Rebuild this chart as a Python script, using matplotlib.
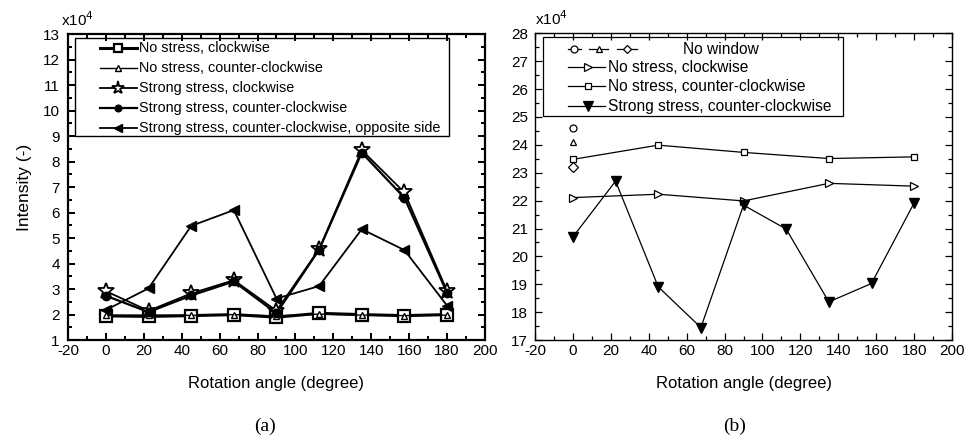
import numpy as np
import matplotlib.pyplot as plt
from matplotlib.ticker import MultipleLocator
from matplotlib.lines import Line2D
from matplotlib.patches import Rectangle

plt.rcParams['font.family'] = ['Liberation Sans', 'DejaVu Sans']
plt.rcParams['axes.unicode_minus'] = False

# (a) rotation angle vs intensity (x1e4)
ang_a = [0, 22.5, 45, 67.5, 90, 112.5, 135, 157.5, 180]
no_cw = [1.95, 1.93, 1.96, 2.0, 1.9, 2.05, 2.0, 1.96, 2.0]
no_ccw = [1.97, 1.98, 1.97, 2.0, 1.95, 2.02, 1.98, 1.96, 1.98]
strong_cw = [2.92, 2.15, 2.83, 3.35, 2.15, 4.57, 8.45, 6.79, 2.92]
strong_ccw = [2.74, 2.1, 2.75, 3.3, 2.05, 4.55, 8.35, 6.58, 2.85]
strong_ccw_opp = [2.18, 3.03, 5.48, 6.1, 2.63, 3.12, 5.35, 4.53, 2.35]
labels_a = ['No stress, clockwise', 'No stress, counter-clockwise', 'Strong stress, clockwise',
            'Strong stress, counter-clockwise', 'Strong stress, counter-clockwise, opposite side']

# (b)
nowin_circle = 24.59
nowin_tri = 24.11
nowin_diamond = 23.21
ang_b5 = [0, 45, 90, 135, 180]
b_no_cw = [22.11, 22.23, 21.99, 22.62, 22.52]
b_no_ccw = [23.48, 23.99, 23.73, 23.51, 23.57]
ang_b9 = [0, 22.5, 45, 67.5, 90, 112.5, 135, 157.5, 180]
b_strong_ccw = [20.70, 22.70, 18.91, 17.45, 21.84, 20.98, 18.37, 19.03, 21.92]
labels_b = ['No window', 'No stress, clockwise', 'No stress, counter-clockwise',
            'Strong stress, counter-clockwise']

fig = plt.figure(figsize=(9.71, 4.44), dpi=100)
ax1 = fig.add_axes([0.070, 0.234, 0.4295, 0.689])
ax2 = fig.add_axes([0.551, 0.234, 0.4295, 0.691])


def style_axes(ax, lw):
    ax.set_xlim(-20, 200)
    ax.xaxis.set_major_locator(MultipleLocator(20))
    ax.xaxis.set_minor_locator(MultipleLocator(10))
    ax.yaxis.set_major_locator(MultipleLocator(1))
    ax.yaxis.set_minor_locator(MultipleLocator(0.5))
    for sp in ax.spines.values():
        sp.set_linewidth(lw)
    ax.tick_params(which='both', direction='in', top=True, right=True, width=lw * 0.9, labelsize=11)
    ax.tick_params(which='major', length=5)
    ax.tick_params(which='minor', length=3)
    ax.tick_params(axis='x', pad=3)
    ax.set_xlabel('Rotation angle (degree)', fontsize=12, labelpad=13)


# ---- panel a
sty_a = [dict(marker='s', lw=2.2, ms=8, mfc='white', mew=1.6),
         dict(marker='^', lw=1.0, ms=5, mfc='white', mew=1.0),
         dict(marker='*', lw=1.3, ms=12, mfc='white', mew=1.3),
         dict(marker='o', lw=1.6, ms=6, mfc='k', mew=1.0),
         dict(marker='<', lw=1.3, ms=7, mfc='k', mew=1.0)]
for ys, st in zip([no_cw, no_ccw, strong_cw, strong_ccw, strong_ccw_opp], sty_a):
    ax1.plot(ang_a, ys, color='k', mec='k', **st)

ax1.set_ylim(1, 13)
style_axes(ax1, 1.6)
ax1.tick_params(axis='y', pad=6)
ax1.set_ylabel('Intensity (-)', fontsize=12.5, labelpad=8)
ax1.text(-0.016, 1.028, r'x10$^4$', transform=ax1.transAxes, fontsize=11)

# legend (a), drawn by hand to follow the original layout
T1 = ax1.transAxes
ax1.add_patch(Rectangle((0.017, 0.667), 0.897, 0.32, transform=T1, fill=False, ec='k', lw=1.0, zorder=5))
rows_a = [0.954, 0.889, 0.824, 0.758, 0.693]
for y, st, lab in zip(rows_a, sty_a, labels_a):
    ax1.add_line(Line2D([0.077, 0.165], [y, y], transform=T1, color='k', lw=st['lw'], zorder=6))
    ax1.add_line(Line2D([0.121], [y], transform=T1, color='k', marker=st['marker'], ms=st['ms'] * 0.8,
                        mfc=st['mfc'], mec='k', mew=st['mew'], zorder=6))
    ax1.text(0.170, y, lab, transform=T1, fontsize=10.4, va='center', zorder=6)
fig.text(0.273, 0.03, '(a)', fontsize=14, family='Liberation Serif', ha='center')

# ---- panel b
ax2.plot([0], [nowin_circle], 'o', color='k', ms=5, mfc='white', mew=0.9)
ax2.plot([0], [nowin_tri], '^', color='k', ms=5, mfc='white', mew=0.9)
ax2.plot([0], [nowin_diamond], 'D', color='k', ms=5, mfc='white', mew=0.9)
ax2.plot(ang_b5, b_no_cw, '->', color='k', lw=0.9, ms=6, mfc='white', mew=0.9)
ax2.plot(ang_b5, b_no_ccw, '-s', color='k', lw=0.9, ms=5, mfc='white', mew=0.9)
ax2.plot(ang_b9, b_strong_ccw, '-v', color='k', lw=0.9, ms=7, mfc='k')

ax2.set_ylim(17, 28)
style_axes(ax2, 1.0)
ax2.tick_params(axis='y', pad=5)
ax2.text(0.0, 1.028, r'x10$^4$', transform=ax2.transAxes, fontsize=11)

# legend (b), drawn by hand: first row has three handles
T = ax2.transAxes
ax2.add_patch(Rectangle((0.019, 0.730), 0.72, 0.257, transform=T, fill=False, ec='k', lw=0.9, zorder=5))
rows = [0.948, 0.890, 0.827, 0.762]
for x0, x1, m in [(0.079, 0.11, 'o'), (0.13, 0.175, '^'), (0.197, 0.245, 'D')]:
    ax2.add_line(Line2D([x0, x1], [rows[0]] * 2, transform=T, color='k', lw=0.9, zorder=6))
    ax2.add_line(Line2D([(x0 + x1) / 2], [rows[0]], transform=T, color='k', marker=m, ms=5 if m != 'D' else 4.5,
                        mfc='white', mew=0.9, zorder=6))
ax2.text(0.355, rows[0], labels_b[0], transform=T, fontsize=11.2, va='center', zorder=6)
for y, m, fc, ms, lab in [(rows[1], '>', 'white', 6, labels_b[1]),
                          (rows[2], 's', 'white', 5, labels_b[2]),
                          (rows[3], 'v', 'k', 7, labels_b[3])]:
    ax2.add_line(Line2D([0.079, 0.168], [y, y], transform=T, color='k', lw=0.9, zorder=6))
    ax2.add_line(Line2D([0.128], [y], transform=T, color='k', marker=m, ms=ms, mfc=fc, mew=0.9, zorder=6))
    ax2.text(0.175, y, lab, transform=T, fontsize=11.2, va='center', zorder=6)
fig.text(0.757, 0.03, '(b)', fontsize=14, family='Liberation Serif', ha='center')

fig.savefig('out.png', dpi=100)
